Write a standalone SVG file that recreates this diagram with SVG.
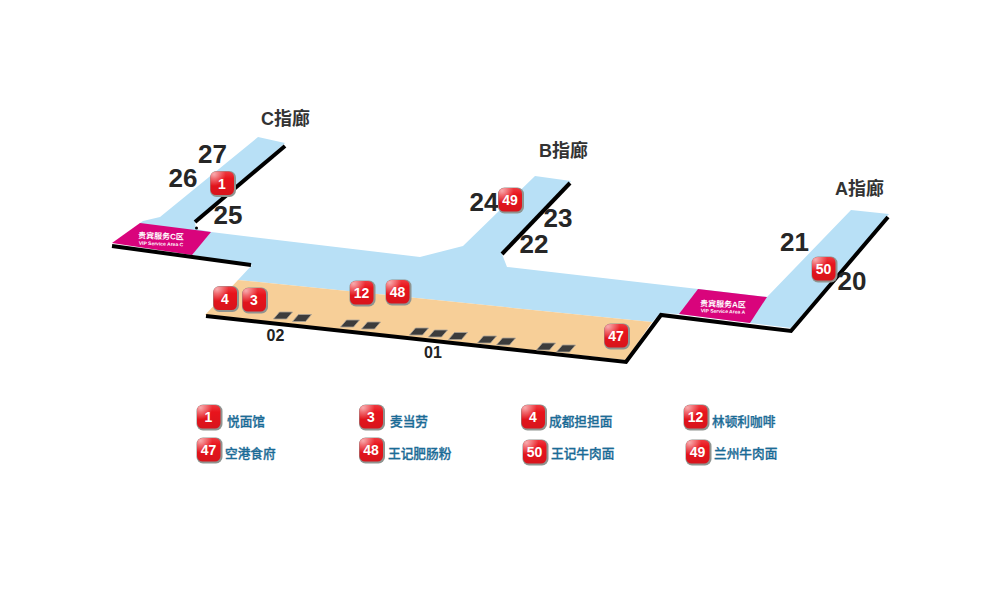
<svg xmlns="http://www.w3.org/2000/svg" width="1000" height="600" viewBox="0 0 1000 600">
<style>
text{font-family:"Liberation Sans","Noto Sans CJK SC",sans-serif}
.num{font-size:26px;font-weight:700;fill:#262626;text-anchor:middle}
.title{font-size:18px;font-weight:700;fill:#333}
.gate{font-size:16px;font-weight:700;fill:#222;text-anchor:middle}
.b{font-size:14px;font-weight:700;fill:#fff;text-anchor:middle}
.leg{font-size:12.7px;font-weight:500;fill:#1b6b96;stroke:#1b6b96;stroke-width:.3;font-family:"Noto Sans CJK SC",sans-serif}
.pk1{font-size:8px;font-weight:700;fill:#fff;text-anchor:middle}
.pk2{font-size:5px;font-weight:700;fill:#fff;text-anchor:middle}
.edge{fill:none;stroke:#000;stroke-width:4;stroke-linejoin:miter}
.tile{fill:#3c3c3c;stroke:#a9a297;stroke-width:.8}
</style>
<defs>
<linearGradient id="red" x1="0" y1="0" x2="0" y2="1">
<stop offset="0" stop-color="#ee3a40"/><stop offset=".3" stop-color="#e8141c"/><stop offset="1" stop-color="#d8141c"/>
</linearGradient>
<radialGradient id="gloss" cx=".15" cy=".12" r=".5">
<stop offset="0" stop-color="#fff" stop-opacity=".6"/><stop offset="1" stop-color="#fff" stop-opacity="0"/>
</radialGradient>
<g id="badge">
<rect x="-12.500" y="-12.500" width="26" height="26" rx="6.500" fill="#8f9490"/>
<rect x="-12" y="-12" width="23.500" height="23.500" rx="5.500" fill="url(#red)"/>
<rect x="-12" y="-12" width="23.500" height="23.500" rx="5.500" fill="url(#gloss)"/>
</g>
<path id="tl" class="tile" d="M-3.500 -3.500H9.500L3.500 3.500H-9.500Z"/>
</defs>
<rect width="1000" height="600" fill="#fff"/>
<g id="floor">
<path id="blue" fill="#b8e0f6" d="M258 137L285 143L195 222L196 229L211 232L420 257L463 246L535 176L571 181L502 254L507 267L698 289L767 297L851 210L889 214L791 328L750 323L679 314L661 313L652 322L238 280L252 265L192 255L140 223L143 221L160 217Z"/>
<path id="orange" fill="#f7cf98" d="M238 280L652 322L626 360L205 315Z"/>
<path id="pinkC" fill="#d9047c" d="M140 223L211 232L192 255L112 243Z"/>
<path id="pinkA" fill="#d9047c" d="M698 289L767 297L750 323L679 314Z"/>
</g>
<g id="walls">
<path class="edge" d="M285 146L195 222"/>
<path class="edge" d="M570 183L502 254"/>
<path class="edge" d="M112 246L251 265"/>
<path class="edge" d="M888 217L791 331L661 315L626 362L206 316"/>
<circle cx="196.500" cy="228" r="1.500" fill="#000"/>
</g>
<g id="gates">
<use href="#tl" x="283" y="315.500"/><use href="#tl" x="302" y="318"/>
<use href="#tl" x="350" y="323.500"/><use href="#tl" x="371" y="325.500"/>
<use href="#tl" x="419" y="331.500"/><use href="#tl" x="438" y="333.500"/><use href="#tl" x="458" y="336"/>
<use href="#tl" x="487" y="339.500"/><use href="#tl" x="506" y="341.500"/>
<use href="#tl" x="546" y="346.500"/><use href="#tl" x="566" y="348.500"/>
</g>
<g id="pink-labels">
<text class="pk1" x="161" y="239" transform="rotate(2 161 236)">贵宾服务C区</text>
<text class="pk2" x="161" y="245.500" transform="rotate(2 161 244)">VIP Service Area C</text>
<text class="pk1" x="723" y="307" transform="rotate(2 723 304)">贵宾服务A区</text>
<text class="pk2" x="723" y="313" transform="rotate(2 723 311)">VIP Service Area A</text>
</g>
<g id="labels">
<text class="title" x="261" y="125">C指廊</text>
<text class="title" x="539" y="157">B指廊</text>
<text class="title" x="835" y="195">A指廊</text>
<text class="num" x="212.500" y="163">27</text>
<text class="num" x="183" y="186.500">26</text>
<text class="num" x="228" y="224">25</text>
<text class="num" x="484" y="211">24</text>
<text class="num" x="558" y="227">23</text>
<text class="num" x="534" y="253">22</text>
<text class="num" x="794.500" y="251">21</text>
<text class="num" x="852" y="290">20</text>
<text class="gate" x="275.500" y="341">02</text>
<text class="gate" x="433" y="358">01</text>
</g>
<g id="shop-1"><use href="#badge" x="222.500" y="183.500"/><text class="b" x="222" y="188.500">1</text></g>
<g id="shop-4"><use href="#badge" x="225.500" y="298.500"/><text class="b" x="225" y="303.500">4</text></g>
<g id="shop-3"><use href="#badge" x="254.500" y="300"/><text class="b" x="254" y="305">3</text></g>
<g id="shop-12"><use href="#badge" x="362" y="293"/><text class="b" x="361.500" y="298">12</text></g>
<g id="shop-48"><use href="#badge" x="398" y="292"/><text class="b" x="397.500" y="297">48</text></g>
<g id="shop-47"><use href="#badge" x="616.500" y="336"/><text class="b" x="616" y="341">47</text></g>
<g id="shop-50"><use href="#badge" x="824" y="269"/><text class="b" x="823.500" y="274">50</text></g>
<g id="shop-49"><use href="#badge" x="510.500" y="200"/><text class="b" x="510" y="205">49</text></g>
<g id="legend">
<g id="leg-1"><use href="#badge" x="209" y="417"/><text class="b" x="208.500" y="422">1</text><text class="leg" x="227" y="426">悦面馆</text></g>
<g id="leg-3"><use href="#badge" x="371.500" y="417"/><text class="b" x="371" y="422">3</text><text class="leg" x="390" y="426">麦当劳</text></g>
<g id="leg-4"><use href="#badge" x="533.500" y="417"/><text class="b" x="533" y="422">4</text><text class="leg" x="549" y="426">成都担担面</text></g>
<g id="leg-12"><use href="#badge" x="696" y="417"/><text class="b" x="695.500" y="422">12</text><text class="leg" x="712" y="426">林顿利咖啡</text></g>
<g id="leg-47"><use href="#badge" x="209" y="450"/><text class="b" x="208.500" y="455">47</text><text class="leg" x="225" y="458">空港食府</text></g>
<g id="leg-48"><use href="#badge" x="371.500" y="450"/><text class="b" x="371" y="455">48</text><text class="leg" x="388" y="458">王记肥肠粉</text></g>
<g id="leg-50"><use href="#badge" x="535" y="452"/><text class="b" x="534.500" y="457">50</text><text class="leg" x="551" y="458">王记牛肉面</text></g>
<g id="leg-49"><use href="#badge" x="698" y="452"/><text class="b" x="697.500" y="457">49</text><text class="leg" x="714" y="458">兰州牛肉面</text></g>
</g>
</svg>
